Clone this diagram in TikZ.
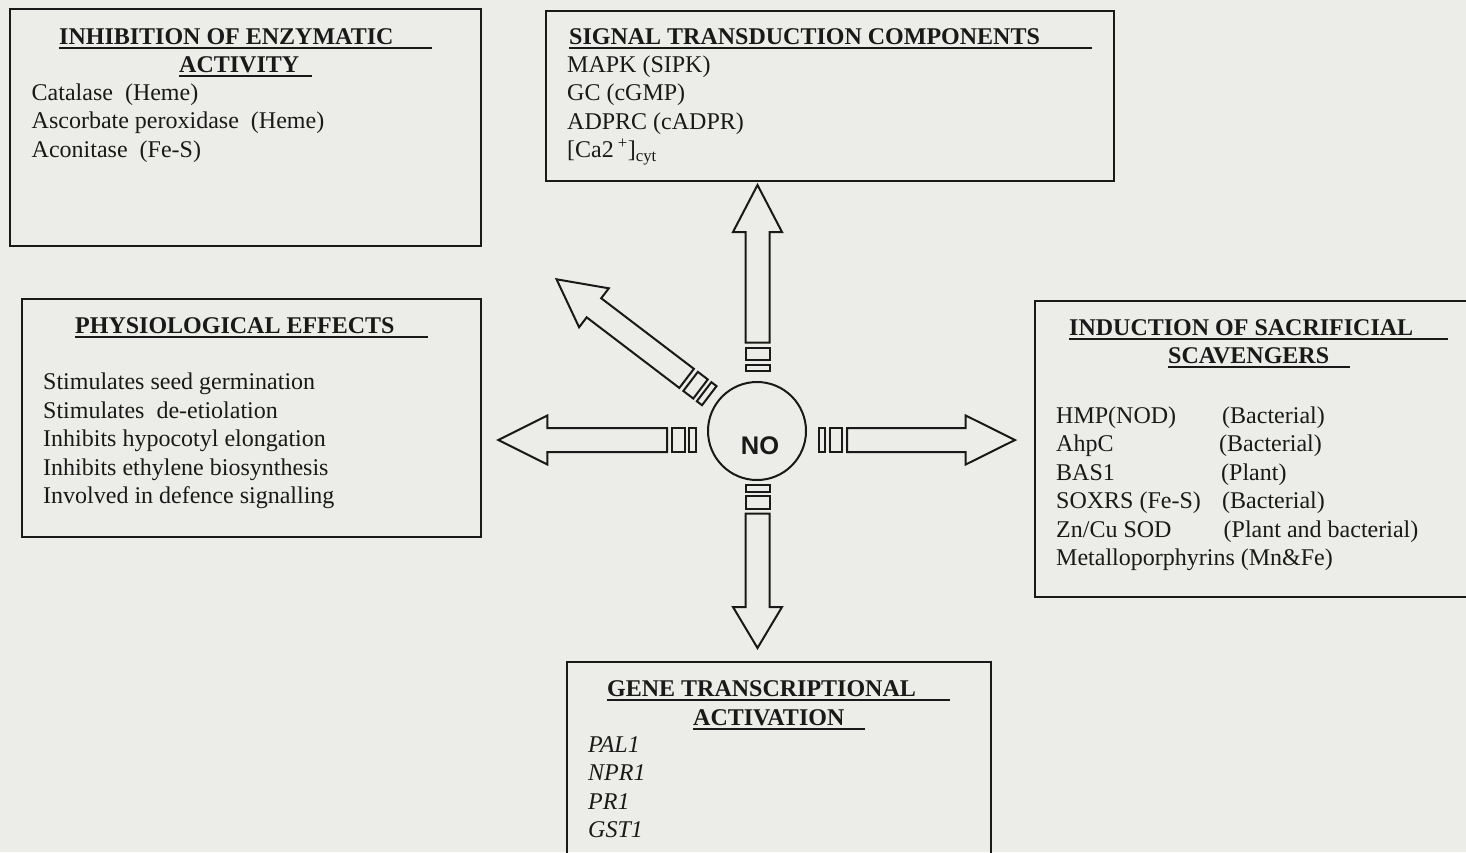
\documentclass[tikz,border=0pt]{standalone}
\usepackage{fontspec}
\setmainfont{Liberation Serif}
\newfontfamily\nofont{Liberation Sans}
\definecolor{paper}{RGB}{236,236,232}
\definecolor{inkc}{RGB}{25,25,25}

% block arrow leaving the NO circle: #1 origin, #2 angle,
% #3 start of the thin bar, #4 head base, #5 tip (distances from origin)
\newcommand\blockarrow[5]{%
  \begin{scope}[shift={#1}, rotate=#2]
    \draw[arrowline] (#3,-12) rectangle ++(6.5,24);
    \draw[arrowline] (#3+11,-12) rectangle ++(12.5,24);
    \draw[arrowline] (#3+28.5,-12) -- (#4,-12) -- (#4,-24.5) -- (#5,0)
      -- (#4,24.5) -- (#4,12) -- (#3+28.5,12) -- cycle;
  \end{scope}}

\begin{document}
\begin{tikzpicture}[x=1pt,y=-1pt,
  box/.style={draw=inkc, line width=2.2pt},
  txt/.style={anchor=base west, inner sep=0pt, text=inkc,
    font=\fontsize{24}{28}\selectfont},
  hd/.style={txt, font=\fontsize{24}{28}\selectfont\bfseries},
  gene/.style={txt, font=\fontsize{24}{28}\selectfont\itshape},
  uline/.style={draw=inkc, line width=2pt},
  arrowline/.style={draw=inkc, line width=2pt, line join=miter, fill=paper}]

\fill[paper] (0,0) rectangle (1466,852);
\useasboundingbox (0,0) rectangle (1466,852);

% ---- inhibition of enzymatic activity
\draw[box] (10,9) rectangle (481,246);
\node[hd] (enzA) at (59,44.5) {INHIBITION OF ENZYMATIC};
\node[hd] (enzB) at (179,72) {ACTIVITY};
\draw[uline] ([yshift=-3pt]enzA.base west) -- ++(373,0);
\draw[uline] ([yshift=-3.5pt]enzB.base west) -- ++(133,0);
\node[txt] (enz1) at (31.5,100) {Catalase\ \ (Heme)};
\node[txt] (enz2) at (31.5,128.5) {Ascorbate peroxidase\ \ (Heme)};
\node[txt] (enz3) at (31.5,157) {Aconitase\ \ (Fe-S)};

% ---- signal transduction components
\draw[box] (546,11) rectangle (1114,181);
\node[hd] (sigA) at (569,44) {SIGNAL TRANSDUCTION COMPONENTS};
\draw[uline] ([yshift=-4pt]sigA.base west) -- ++(523,0);
\node[txt] (sig1) at (567,72) {MAPK (SIPK)};
\node[txt] (sig2) at (567,100.5) {GC (cGMP)};
\node[txt] (sig3) at (567,129) {ADPRC (cADPR)};
\node[txt] (sig4) at (567,157.5) {[Ca2\,\textsuperscript{+}]\textsubscript{cyt}};

% ---- physiological effects
\draw[box] (22,299) rectangle (481,537);
\node[hd] (phyA) at (75,333) {PHYSIOLOGICAL EFFECTS};
\draw[uline] ([yshift=-3.5pt]phyA.base west) -- ++(353,0);
\node[txt] (phy1) at (43,389.5) {Stimulates seed germination};
\node[txt] (phy2) at (43,418) {Stimulates\ \ de-etiolation};
\node[txt] (phy3) at (43,446.5) {Inhibits hypocotyl elongation};
\node[txt] (phy4) at (43,475) {Inhibits ethylene biosynthesis};
\node[txt] (phy5) at (43,503.5) {Involved in defence signalling};

% ---- induction of sacrificial scavengers
\draw[box] (1035,301) rectangle (1480,597);
\node[hd] (scvA) at (1069,335) {INDUCTION OF SACRIFICIAL};
\node[hd] (scvB) at (1168,363.5) {SCAVENGERS};
\draw[uline] ([yshift=-3.5pt]scvA.base west) -- ++(379,0);
\draw[uline] ([yshift=-3.5pt]scvB.base west) -- ++(182,0);
\node[txt] (scv1) at (1056,423) {HMP(NOD)};
\node[txt] (scv2) at (1056,451.5) {AhpC};
\node[txt] (scv3) at (1056,480) {BAS1};
\node[txt] (scv4) at (1056,508.5) {SOXRS (Fe-S)};
\node[txt] (scv5) at (1056,537) {Zn/Cu SOD};
\node[txt] (scv6) at (1056,565.5) {Metalloporphyrins (Mn\&Fe)};
\node[txt] (org1) at (1222,423) {(Bacterial)};
\node[txt] (org2) at (1219,451.5) {(Bacterial)};
\node[txt] (org3) at (1221,480) {(Plant)};
\node[txt] (org4) at (1222,508.5) {(Bacterial)};
\node[txt] (org5) at (1223.5,537) {(Plant and bacterial)};

% ---- gene transcriptional activation
\draw[box] (567,662) rectangle (991,870);
\node[hd] (genA) at (607,696.5) {GENE TRANSCRIPTIONAL};
\node[hd] (genB) at (693,725) {ACTIVATION};
\draw[uline] ([yshift=-3.5pt]genA.base west) -- ++(343,0);
\draw[uline] ([yshift=-4pt]genB.base west) -- ++(172,0);
\node[gene] (gen1) at (588,752) {PAL1};
\node[gene] (gen2) at (588,780.5) {NPR1};
\node[gene] (gen3) at (588,809) {PR1};
\node[gene] (gen4) at (588,837.5) {GST1};

% ---- central NO and its five block arrows
\node[circle, draw=inkc, line width=2pt, minimum size=98pt, inner sep=0pt] (no) at (757,431) {};
\node[inner sep=0pt, text=inkc, font=\nofont\bfseries\fontsize{25.5}{28}\selectfont] (nolabel) at (760,446) {NO};

\blockarrow{(757.5,433)}{90}{62}{201}{248}
\blockarrow{(757.5,433)}{-90}{52}{174}{215}
\blockarrow{(757,440)}{180}{61.5}{209.7}{258.7}
\blockarrow{(757,440)}{0}{61.5}{208.7}{258}
\blockarrow{(757,432)}{142.7}{60}{205}{252}

\end{tikzpicture}
\end{document}
